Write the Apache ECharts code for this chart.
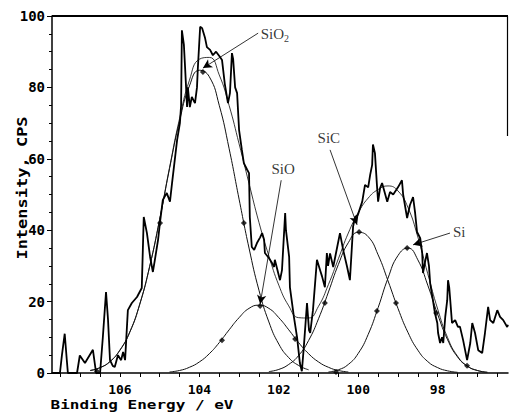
<!DOCTYPE html>
<html>
<head>
<meta charset="utf-8">
<script src="https://cdn.jsdelivr.net/npm/echarts@6/dist/echarts.min.js"></script>
<style>
html,body{margin:0;padding:0;background:#fff;}
#chart{width:509px;height:414px;}
</style>
</head>
<body>
<div id="chart"></div>
<script>
// ---- raw spectrum (binding energy eV, intensity CPS) ----
const rawE = [107.71,107.59,107.51,107.46,107.39,107.34,107.31,107.08,107.01,106.88,106.68,106.60,106.50,106.43,106.35,106.30,106.25,106.18,106.13,106.05,105.97,105.92,105.87,105.80,105.70,105.57,105.45,105.40,105.32,105.24,105.17,105.12,105.04,104.99,104.92,104.82,104.74,104.69,104.56,104.49,104.46,104.44,104.39,104.36,104.31,104.29,104.24,104.19,104.11,104.06,104.04,103.98,103.93,103.86,103.81,103.73,103.66,103.58,103.48,103.43,103.36,103.28,103.23,103.18,103.15,103.10,103.05,103.00,102.93,102.88,102.80,102.75,102.73,102.68,102.62,102.55,102.47,102.42,102.37,102.35,102.25,102.17,102.12,102.10,101.99,101.97,101.92,101.84,101.82,101.74,101.72,101.62,101.54,101.47,101.42,101.37,101.29,101.24,101.21,101.14,101.04,100.96,100.91,100.84,100.79,100.76,100.71,100.63,100.53,100.46,100.38,100.28,100.21,100.13,100.08,100.01,99.90,99.83,99.75,99.70,99.65,99.63,99.58,99.53,99.50,99.45,99.40,99.32,99.27,99.20,99.12,99.00,98.90,98.87,98.77,98.70,98.62,98.57,98.52,98.44,98.39,98.37,98.32,98.27,98.22,98.19,98.12,98.07,98.01,97.99,97.94,97.89,97.86,97.81,97.76,97.74,97.71,97.69,97.64,97.56,97.49,97.44,97.36,97.26,97.18,97.13,97.06,96.98,96.88,96.81,96.73,96.68,96.60,96.50,96.43,96.35,96.25,96.23];
const rawI = [0,0,0,5,11,4,0,0,4.9,2.8,6.5,0,0,10,22.7,15,3.6,2,1.7,5,3.6,5.9,3.6,17.6,19.6,21.3,23.8,43.7,39.2,32.5,28.3,31.7,37.3,42.3,48.5,50.4,48,53,65.3,70,75,96,92,85.7,74.5,80,74.5,77.3,75.6,80,85,97,96.6,94,91.3,90.5,89,90,88.5,87.7,81,75.6,78.4,89.6,88,80,78.4,68,62.5,58.8,57,56,43.7,35.3,34.5,36.4,38,39.2,37.3,33.6,32.2,30.8,29.7,31.7,26.9,26,28.8,44.8,40,32.5,24,15.7,10,2.8,0.5,7.3,19.6,12,11.2,17.6,31.7,28.8,27,24,33.6,30,33.5,29.7,35.3,39.2,34.5,29.7,26,41,43.7,44.3,48,52.7,52,55.5,58.3,64,61.6,52.7,48,51.8,53.2,50,48,50.7,50,52,54,50,43.4,47,49.3,45,39.5,37.8,33.6,28,31,33.6,30,25.2,20.4,16.8,14,11.2,8.4,10,8.4,15.7,20.4,26,24,21.3,14,14.8,12.9,13,9.2,3.6,8.4,14,11.2,6.4,5.6,11.2,18.5,14.8,14,17.6,15.7,14.8,12.9,13.5];

// ---- fitted components read on a common energy grid ----
const compE = [106.75,106.5,106.25,106.0,105.75,105.5,105.25,105.0,104.75,104.5,104.25,104.0,103.75,103.5,103.25,103.0,102.75,102.5,102.25,102.0,101.75,101.5,101.25,101.0,100.75,100.5,100.25,100.0,99.75,99.5,99.25,99.0,98.75,98.5,98.25,98.0,97.75,97.5,97.25,97.0,96.75];
const N = null;
const sio2 = [0.7,1.5,3.2,6.4,11.5,19.3,29.9,43.0,57.3,70.5,80.4,84.8,83.0,75.0,62.8,48.7,35.0,23.2,14.3,8.1,4.3,2.1,0.9,N,N,N,N,N,N,N,N,N,N,N,N,N,N,N,N,N,N];
const sio  = [N,N,N,N,N,N,N,N,0.3,0.7,1.6,3.1,5.4,8.5,12.1,15.5,18.1,19.0,18.1,15.5,12.1,8.5,5.4,3.1,1.6,0.7,0.3,N,N,N,N,N,N,N,N,N,N,N,N,N,N];
const sic  = [N,N,N,N,N,N,N,N,N,N,N,N,N,N,N,N,N,N,0.4,1.0,2.4,4.9,9.1,15.2,22.7,30.4,36.5,39.4,38.2,33.1,25.8,18.1,11.4,6.4,3.2,1.5,0.6,0.2,N,N,N];
const si   = [N,N,N,N,N,N,N,N,N,N,N,N,N,N,N,N,N,N,N,N,N,N,N,N,0.3,0.9,2.4,5.5,10.8,18.3,26.6,32.9,35.0,31.7,24.6,16.4,9.3,4.5,1.9,0.7,0.2];
const envelope = [0.7,1.5,3.2,6.4,11.5,19.3,29.9,43.0,57.6,71.2,82.0,87.9,88.4,83.5,74.9,64.2,53.1,42.2,32.8,24.6,18.8,15.5,15.4,18.7,24.8,32.0,39.2,44.9,49.0,51.4,52.4,51.0,46.4,38.1,27.8,17.9,9.9,4.7,1.9,0.7,0.2];

// ---- diamond markers on components ----
const markE = [106.58,104.99,103.91,102.88,103.43,102.47,101.59,100.56,100.84,99.98,99.05,99.53,98.77,98.04,97.26];
const markI = [0.5,42,84.3,42,9.2,18.8,9.5,0.3,19.6,39.5,19.6,17.4,35,16.8,2];

// ---- peak labels and pointer arrows ----
const peakNames = ['SiO2','SiO','SiC','Si'];
const labelE = [102.10,101.89,100.74,97.46];
const labelI = [94.9,57.1,65.8,39.5];
const arrowFromE = [102.52,101.94,100.71,97.69];
const arrowFromI = [95.2,54,62.5,39.2];
const arrowToE = [103.91,102.47,100.03,98.62];
const arrowToI = [85.4,19.3,41.5,35.9];

// ---- axis ticks ----
const xTickLabels = [98,100,102,104,106];
const xMinorTicks = [96.5,97,97.5,98,98.5,99,99.5,100,100.5,101,101.5,102,102.5,103,103.5,104,104.5,105,105.5,106,106.5,107,107.5];
const yTickLabels = [0,20,40,60,80,100];

function pairs(xs, ys){ const o=[]; for(let i=0;i<xs.length;i++){ if(ys[i]!==null) o.push([xs[i],ys[i]]);} return o; }

const mono = 'DejaVu Sans Mono';
const chart = echarts.init(document.getElementById('chart'), null, {renderer:'svg'});

const compStyle = {color:'#111', width:1};
const option = {
  animation:false,
  backgroundColor:'#fff',
  grid:{left:52, right:1, top:16, bottom:41, show:false},
  xAxis:{
    type:'value', inverse:true, min:96.23, max:107.71,
    axisLine:{show:true, lineStyle:{color:'#000', width:1.5}},
    axisTick:{show:true, inside:false, length:4, customValues:xMinorTicks, lineStyle:{color:'#000', width:1}},
    axisLabel:{show:true, customValues:xTickLabels, margin:10, fontFamily:mono, fontSize:13, fontWeight:'bold', color:'#000'},
    splitLine:{show:false}
  },
  yAxis:{
    type:'value', min:0, max:100, interval:20,
    axisLine:{show:true, lineStyle:{color:'#000', width:1.5}},
    axisTick:{show:true, length:5, lineStyle:{color:'#000', width:1}},
    minorTick:{show:true, splitNumber:4, length:3, lineStyle:{color:'#000'}},
    axisLabel:{show:true, margin:7, fontFamily:mono, fontSize:14, fontWeight:'bold', color:'#000', padding:[0,0,5,0]},
    splitLine:{show:false}
  },
  graphic:[
    {type:'line', shape:{x1:52, y1:16, x2:508, y2:16}, style:{stroke:'#000', lineWidth:1.8}},
    {type:'line', shape:{x1:507.5, y1:16, x2:507.5, y2:136}, style:{stroke:'#000', lineWidth:1.2}},
    {type:'text', x:22, y:188, rotation:Math.PI/2, scaleX:1, scaleY:0.85, style:{text:'Intensity, CPS', font:'bold 17px "DejaVu Sans Mono"', fill:'#000', align:'center', verticalAlign:'middle'}},
    {type:'text', x:142, y:405, scaleX:1, scaleY:0.8, style:{text:'Binding Energy / eV', font:'bold 16px "DejaVu Sans Mono"', fill:'#000', align:'center', verticalAlign:'middle'}}
  ],
  series:[
    {type:'line', name:'raw', data:pairs(rawE, rawI), showSymbol:false, lineStyle:{color:'#000', width:1.8}, z:3},
    {type:'line', name:'envelope', data:pairs(compE, envelope), smooth:true, showSymbol:false, lineStyle:{color:'#222', width:0.9}, z:2,
      markLine:{silent:true, symbol:['none','arrow'], symbolSize:[7,9], label:{show:false},
        lineStyle:{color:'#000', width:0.8, type:'solid'},
        data: arrowFromE.map((e,i)=>[{coord:[e, arrowFromI[i]]},{coord:[arrowToE[i], arrowToI[i]]}])}
    },
    {type:'line', name:'SiO2', data:pairs(compE, sio2), smooth:true, showSymbol:false, lineStyle:compStyle, z:2},
    {type:'line', name:'SiO', data:pairs(compE, sio), smooth:true, showSymbol:false, lineStyle:compStyle, z:2},
    {type:'line', name:'SiC', data:pairs(compE, sic), smooth:true, showSymbol:false, lineStyle:compStyle, z:2},
    {type:'line', name:'Si', data:pairs(compE, si), smooth:true, showSymbol:false, lineStyle:compStyle, z:2},
    {type:'scatter', name:'marks', data:pairs(markE, markI), symbol:'diamond', symbolSize:6, itemStyle:{color:'#000'}, z:4},
    {type:'scatter', name:'labels', symbolSize:0, z:5,
      data: peakNames.map((n,i)=>({value:[labelE[i], labelI[i]], name:n})),
      label:{show:true, position:'inside', fontFamily:'Liberation Serif', fontSize:15, color:'#000',
        formatter:p=> p.name==='SiO2' ? 'SiO{s|2}' : p.name,
        rich:{s:{fontFamily:'Liberation Serif', fontSize:10, color:'#000', padding:[8,0,0,0]}}}
    }
  ]
};
chart.setOption(option);
</script>
</body>
</html>
